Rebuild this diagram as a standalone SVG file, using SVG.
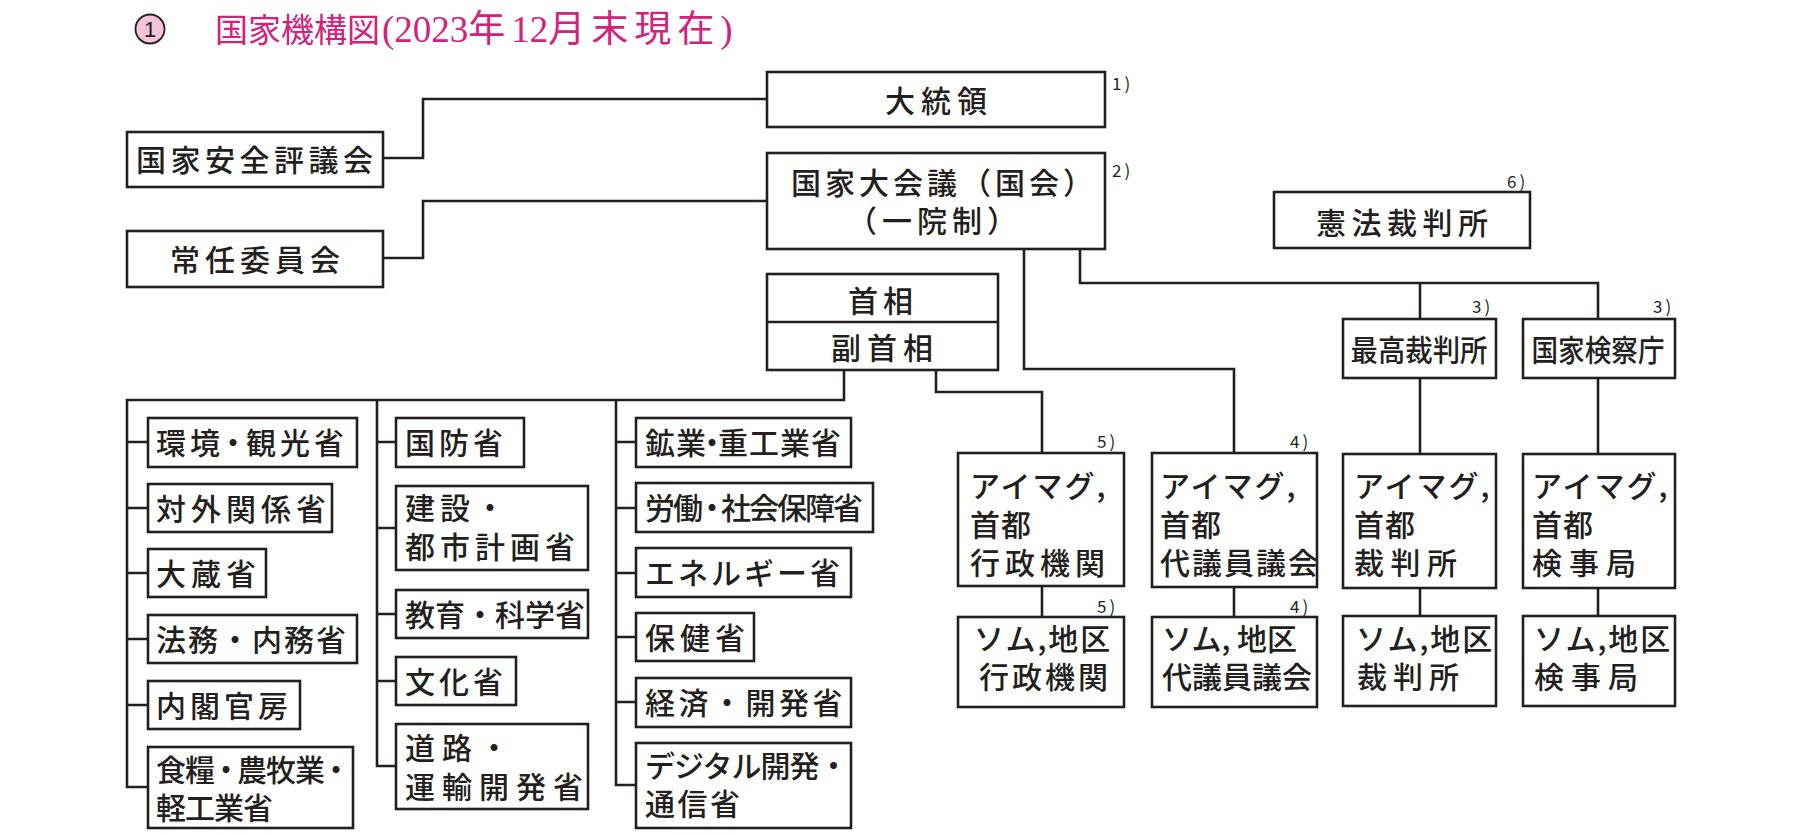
<svg xmlns="http://www.w3.org/2000/svg" width="1800" height="833" viewBox="0 0 1800 833">
<style>
.bx{fill:#fff;stroke:#231f20;stroke-width:2.6}
.ln{fill:none;stroke:#231f20;stroke-width:2.6}
.t{font-family:"Noto Sans CJK JP","Noto Sans CJK SC",sans-serif;font-size:30px;font-weight:500;fill:#231f20}
.n{font-family:"Noto Sans CJK JP",sans-serif;font-size:17px;fill:#231f20;letter-spacing:3px}
.ttl{font-family:"Noto Sans CJK JP",sans-serif;font-size:33px;fill:#d3217c}
.ttl2{font-family:"Liberation Serif","Noto Sans CJK JP",serif;font-size:37px;fill:#d3217c;letter-spacing:0}
.k{letter-spacing:6px}
</style>
<rect width="1800" height="833" fill="#fff"/>
<g id="title">
<circle cx="150" cy="29" r="14.5" fill="#f6c4da" stroke="#231f20" stroke-width="1.8"/>
<text x="150" y="37" text-anchor="middle" style="font-family:'Liberation Sans',sans-serif;font-size:22px;fill:#231f20">1</text>
<text class="ttl" x="215" y="42">国家機構図</text>
<text class="ttl2" x="382" y="42">(2023<tspan class="k">年</tspan>12<tspan class="k">月末現在</tspan>)</text>
</g>
<g id="connectors">
<path class="ln" d="M383,158 H423 V99 H767"/>
<path class="ln" d="M383,258 H423 V201 H767"/>
<path class="ln" d="M1024,249 V369 H1234 V453"/>
<path class="ln" d="M1080,249 V283 H1598 V319"/>
<path class="ln" d="M1420,283 V319"/>
<path class="ln" d="M1420,378 V454"/>
<path class="ln" d="M1420,588 V616"/>
<path class="ln" d="M1598,378 V454"/>
<path class="ln" d="M1598,588 V616"/>
<path class="ln" d="M936,370 V392 H1042 V453"/>
<path class="ln" d="M1042,586 V617"/>
<path class="ln" d="M1234,587 V617"/>
<path class="ln" d="M844,370 V400 H127 V787 H148"/>
<path class="ln" d="M377,400 V766 H396"/>
<path class="ln" d="M616,400 V785 H636"/>
<path class="ln" d="M127,442 H148 M127,508 H148 M127,573 H148 M127,639 H148 M127,705 H148"/>
<path class="ln" d="M377,442 H396 M377,528 H396 M377,614 H396 M377,681 H396"/>
<path class="ln" d="M616,442 H636 M616,508 H636 M616,573 H636 M616,637 H636 M616,702 H636"/>
</g>
<g id="president">
<rect class="bx" x="767" y="72" width="338" height="55"/>
<text class="t" x="885" y="112" letter-spacing="6">大統領</text>
<text class="n" x="1112" y="90">1)</text>
</g>
<g id="nsc">
<rect class="bx" x="127" y="132" width="256" height="55"/>
<text class="t" x="136" y="171" letter-spacing="4.5">国家安全評議会</text>
</g>
<g id="standing">
<rect class="bx" x="127" y="231" width="256" height="56"/>
<text class="t" x="170" y="271" letter-spacing="5">常任委員会</text>
</g>
<g id="parliament">
<rect class="bx" x="767" y="153" width="338" height="96"/>
<text class="t" x="791" y="194" letter-spacing="4">国家大会議（国会）</text>
<text class="t" x="847" y="232" letter-spacing="5">（一院制）</text>
<text class="n" x="1112" y="177">2)</text>
</g>
<g id="constcourt">
<rect class="bx" x="1274" y="192" width="256" height="56"/>
<text class="t" x="1316" y="234" letter-spacing="5.5">憲法裁判所</text>
<text class="n" x="1507" y="188">6)</text>
</g>
<g id="pm">
<rect class="bx" x="767" y="274" width="231" height="96"/>
<line x1="767" y1="322" x2="998" y2="322" stroke="#231f20" stroke-width="2.6"/>
<text class="t" x="848" y="312" letter-spacing="5">首相</text>
<text class="t" x="831" y="359" letter-spacing="6">副首相</text>
</g>
<g id="supremecourt">
<rect class="bx" x="1343" y="319" width="153" height="59"/>
<text class="t" x="1350.5" y="361" textLength="137" lengthAdjust="spacingAndGlyphs">最高裁判所</text>
<text class="n" x="1472" y="313">3)</text>
</g>
<g id="prosecutor">
<rect class="bx" x="1523" y="319" width="152" height="59"/>
<text class="t" x="1531.5" y="361" textLength="133" lengthAdjust="spacingAndGlyphs">国家検察庁</text>
<text class="n" x="1653" y="313">3)</text>
</g>
<g id="m-env"><rect class="bx" x="148" y="418" width="209" height="49"/><text class="t" x="156" y="454" letter-spacing="4">環<tspan style="letter-spacing:-2px">境・</tspan>観光省</text></g>
<g id="m-foreign"><rect class="bx" x="148" y="484" width="184" height="48"/><text class="t" x="156" y="520" letter-spacing="5">対外関係省</text></g>
<g id="m-finance"><rect class="bx" x="148" y="549" width="118" height="48"/><text class="t" x="156" y="585" letter-spacing="5">大蔵省</text></g>
<g id="m-justice"><rect class="bx" x="148" y="615" width="209" height="48"/><text class="t" x="156" y="651" letter-spacing="2">法務・内務省</text></g>
<g id="m-cabinet"><rect class="bx" x="148" y="681" width="152" height="48"/><text class="t" x="156" y="717" letter-spacing="4">内閣官房</text></g>
<g id="m-food"><rect class="bx" x="148" y="747" width="205" height="81"/><text class="t" x="156" y="781" letter-spacing="-1">食<tspan style="letter-spacing:-4px">糧・</tspan>農牧<tspan style="letter-spacing:-4px">業・</tspan></text><text class="t" x="156" y="819" letter-spacing="-1">軽工業省</text></g>
<g id="m-defense"><rect class="bx" x="396" y="418" width="128" height="49"/><text class="t" x="405" y="454" letter-spacing="4">国防省</text></g>
<g id="m-construction"><rect class="bx" x="396" y="486" width="192" height="84"/><text class="t" x="405" y="519" letter-spacing="5">建設・</text><text class="t" x="405" y="558" letter-spacing="5">都市計画省</text></g>
<g id="m-education"><rect class="bx" x="396" y="590" width="192" height="48"/><text class="t" x="405" y="626" letter-spacing="0">教育・科学省</text></g>
<g id="m-culture"><rect class="bx" x="396" y="657" width="120" height="48"/><text class="t" x="405" y="693" letter-spacing="4">文化省</text></g>
<g id="m-road"><rect class="bx" x="396" y="724" width="192" height="85"/><text class="t" x="405" y="759" letter-spacing="7">道路・</text><text class="t" x="405" y="798" letter-spacing="7">運輸開発省</text></g>
<g id="m-mining"><rect class="bx" x="636" y="418" width="215" height="49"/><text class="t" x="645" y="454" letter-spacing="1">鉱<tspan style="letter-spacing:-9px">業・</tspan>重工業省</text></g>
<g id="m-labour"><rect class="bx" x="636" y="483" width="237" height="49"/><text class="t" x="645" y="519" letter-spacing="-2">労<tspan style="letter-spacing:-6px">働・</tspan>社会保障省</text></g>
<g id="m-energy"><rect class="bx" x="636" y="548" width="215" height="49"/><text class="t" x="645" y="584" letter-spacing="3">エネルギー省</text></g>
<g id="m-health"><rect class="bx" x="636" y="613" width="118" height="48"/><text class="t" x="645" y="649" letter-spacing="5">保健省</text></g>
<g id="m-economy"><rect class="bx" x="636" y="678" width="215" height="49"/><text class="t" x="645" y="714" letter-spacing="3.5">経済・開発省</text></g>
<g id="m-digital"><rect class="bx" x="636" y="743" width="215" height="85"/><text class="t" x="645" y="777" letter-spacing="-1">デジタル開発・</text><text class="t" x="645" y="815" letter-spacing="2.5">通信省</text></g>
<g id="aimag-admin">
<rect class="bx" x="958" y="453" width="166" height="133"/>
<text class="t" x="970" y="497" letter-spacing="2">アイマグ,</text>
<text class="t" x="970" y="536" letter-spacing="1">首都</text>
<text class="t" x="970" y="574" letter-spacing="5">行政機関</text>
<text class="n" x="1097" y="448">5)</text>
</g>
<g id="aimag-council">
<rect class="bx" x="1152" y="453" width="165" height="134"/>
<text class="t" x="1160" y="497" letter-spacing="2">アイマグ,</text>
<text class="t" x="1160" y="536" letter-spacing="1">首都</text>
<text class="t" x="1160" y="574" letter-spacing="2">代議員議会</text>
<text class="n" x="1290" y="448">4)</text>
</g>
<g id="aimag-court">
<rect class="bx" x="1343" y="454" width="153" height="134"/>
<text class="t" x="1354" y="497" letter-spacing="2">アイマグ,</text>
<text class="t" x="1354" y="536" letter-spacing="1">首都</text>
<text class="t" x="1354" y="574" letter-spacing="6.5">裁判所</text>
</g>
<g id="aimag-prosecutor">
<rect class="bx" x="1523" y="454" width="152" height="134"/>
<text class="t" x="1532" y="497" letter-spacing="2">アイマグ,</text>
<text class="t" x="1532" y="536" letter-spacing="1">首都</text>
<text class="t" x="1532" y="574" letter-spacing="7">検事局</text>
</g>
<g id="soum-admin">
<rect class="bx" x="958" y="617" width="166" height="90"/>
<text class="t" x="974" y="650" letter-spacing="2">ソム,地区</text>
<text class="t" x="979" y="688" letter-spacing="3">行政機関</text>
<text class="n" x="1097" y="613">5)</text>
</g>
<g id="soum-council">
<rect class="bx" x="1152" y="617" width="165" height="90"/>
<text class="t" x="1162" y="650" letter-spacing="0">ソム, 地区</text>
<text class="t" x="1162" y="688" letter-spacing="0">代議員議会</text>
<text class="n" x="1290" y="613">4)</text>
</g>
<g id="soum-court">
<rect class="bx" x="1343" y="616" width="153" height="90"/>
<text class="t" x="1356" y="650" letter-spacing="2">ソム,地区</text>
<text class="t" x="1357" y="688" letter-spacing="6">裁判所</text>
</g>
<g id="soum-prosecutor">
<rect class="bx" x="1523" y="616" width="152" height="90"/>
<text class="t" x="1534" y="650" letter-spacing="2">ソム,地区</text>
<text class="t" x="1534" y="688" letter-spacing="7">検事局</text>
</g>
</svg>
